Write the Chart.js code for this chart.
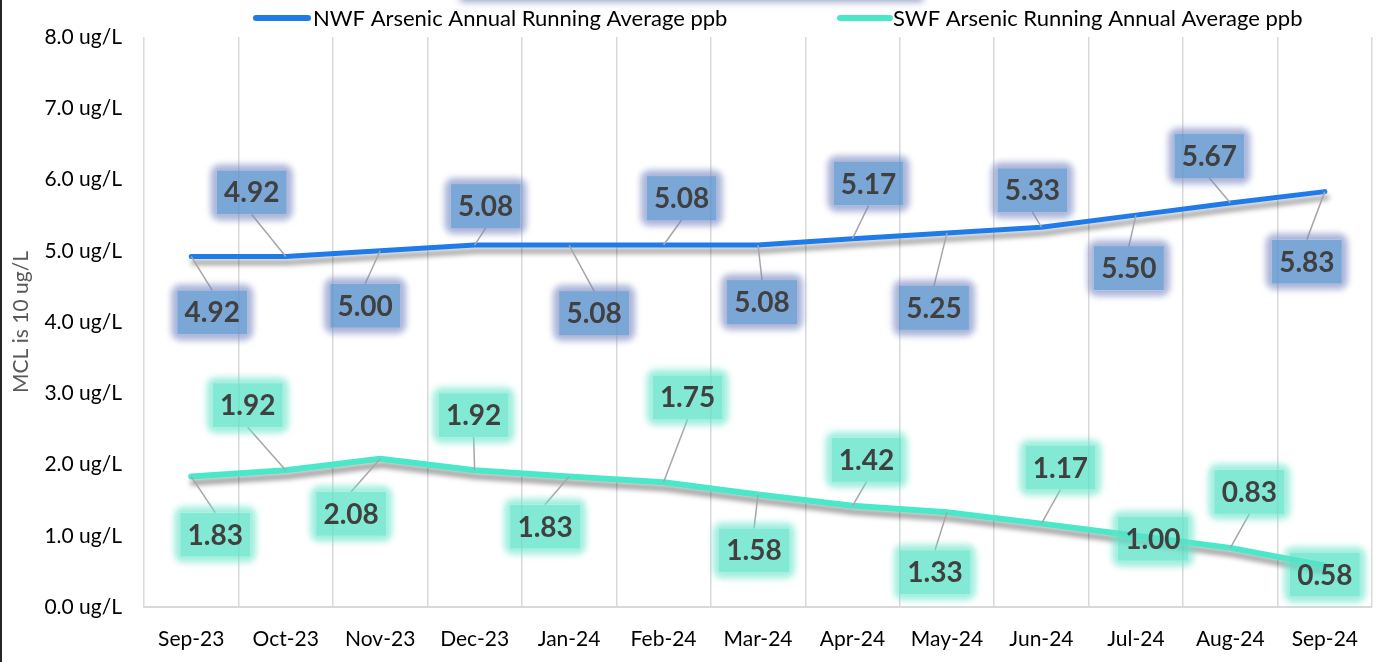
<!DOCTYPE html>
<html>
<head>
<meta charset="utf-8">
<script src="https://cdn.jsdelivr.net/npm/chart.js@4.4.1/dist/chart.umd.min.js"></script>
<style>
  html, body { margin: 0; padding: 0; background: #fff; }
  #wrap { width: 1378px; height: 662px; position: relative; }
</style>
</head>
<body>
<div id="wrap"><canvas id="lineChart"></canvas></div>
<script>
// Data
const months = ["Sep-23", "Oct-23", "Nov-23", "Dec-23", "Jan-24", "Feb-24", "Mar-24",
  "Apr-24", "May-24", "Jun-24", "Jul-24", "Aug-24", "Sep-24"];
const nwfValues = [4.92, 4.92, 5.00, 5.08, 5.08, 5.08, 5.08, 5.17, 5.25, 5.33, 5.50, 5.67, 5.83];
const swfValues = [1.83, 1.92, 2.08, 1.92, 1.83, 1.75, 1.58, 1.42, 1.33, 1.17, 1.00, 0.83, 0.58];
const yTickLabels = ["0.0 ug/L", "1.0 ug/L", "2.0 ug/L", "3.0 ug/L", "4.0 ug/L",
  "5.0 ug/L", "6.0 ug/L", "7.0 ug/L", "8.0 ug/L"];
const nwfName = "NWF Arsenic Annual Running Average ppb";
const swfName = "SWF Arsenic Running Annual Average ppb";
const yTitle = "MCL is 10 ug/L";

// Label placement (pixel offsets from each point), like the moved Excel labels
const nwfLabelOffset = [[21, 56], [-34, -64], [-15, 55], [11, -39], [25, 68], [18, -47], [4, 57],
  [16, -55], [-13, 75], [-9, -37], [-7, 53], [-21, -47], [-18, 70]];
const swfLabelOffset = [[24, 58], [-38, -65], [-29, 55], [-1, -55], [-24, 50], [24, -85], [-4, 56],
  [14, -46], [-12, 60], [19, -56], [17, 3], [19, -56], [0, 9]];

const NWF_COLOR = "#1e7be9";
const SWF_COLOR = "#4ae8c9";
const FONT = "Lato, 'Open Sans', sans-serif";

const boxStyles = [
  { fill: "rgba(86,142,204,0.78)", glow: "rgba(118,134,192,0.62)", offsets: nwfLabelOffset },
  { fill: "rgba(88,226,198,0.75)", glow: "rgba(104,228,202,0.62)", offsets: swfLabelOffset },
];

const chartDecor = {
  id: "chartDecor",
  beforeDraw(chart) {
    const c = chart.ctx;
    c.save();
    // dark left edge of the picture
    c.fillStyle = "#262626";
    c.fillRect(0, 0, 2, chart.height);
    // shadow of a cut-off box at the very top
    c.shadowColor = "rgba(90,110,170,0.6)";
    c.shadowBlur = 7;
    c.shadowOffsetY = 2;
    c.fillStyle = "#fff";
    c.fillRect(460, -40, 463, 40);
    c.restore();
  },
  beforeDatasetDraw(chart) {
    const c = chart.ctx;
    c.save();
    c.shadowColor = "rgba(0,0,0,0.38)";
    c.shadowBlur = 5;
    c.shadowOffsetX = 2;
    c.shadowOffsetY = 6;
  },
  afterDatasetDraw(chart) {
    chart.ctx.restore();
  },
  afterDatasetsDraw(chart) {
    const c = chart.ctx;
    const bw = 70, bh = 44;
    chart.data.datasets.forEach((ds, di) => {
      const meta = chart.getDatasetMeta(di);
      const st = boxStyles[di];
      meta.data.forEach((pt, i) => {
        const [dx, dy] = st.offsets[i];
        const cx = pt.x + dx, cy = pt.y + dy;
        const bx = cx - bw / 2, by = cy - bh / 2;
        // leader line
        if (Math.abs(dy) > bh / 2 + 6) {
          const ey = dy > 0 ? by : by + bh;
          c.save();
          c.strokeStyle = "#a6a6a6";
          c.lineWidth = 1.5;
          c.beginPath();
          c.moveTo(cx, ey);
          c.lineTo(pt.x, pt.y);
          c.stroke();
          c.restore();
        }
        // soft glow ring outside the box
        c.save();
        c.beginPath();
        c.rect(bx - 30, by - 30, bw + 60, bh + 60);
        c.rect(bx, by, bw, bh);
        c.clip("evenodd");
        c.filter = "blur(3px)";
        c.fillStyle = st.glow;
        c.beginPath();
        c.roundRect(bx - 6, by - 6, bw + 12, bh + 12, 9);
        c.fill();
        c.restore();
        // box
        c.save();
        c.fillStyle = st.fill;
        c.fillRect(bx, by, bw, bh);
        c.fillStyle = "#404040";
        c.font = "bold 28px " + FONT;
        c.textAlign = "center";
        c.textBaseline = "middle";
        c.fillText(ds.data[i].toFixed(2), cx, cy + 1);
        c.restore();
      });
    });
  },
  afterDraw(chart) {
    // legend
    const c = chart.ctx;
    const items = [
      { x0: 256, x1: 308, tx: 313, color: NWF_COLOR, text: nwfName },
      { x0: 840, x1: 890, tx: 893, color: SWF_COLOR, text: swfName },
    ];
    c.save();
    c.lineCap = "round";
    c.lineWidth = 6;
    c.font = "22px " + FONT;
    c.textBaseline = "middle";
    c.fillStyle = "#000";
    items.forEach((it) => {
      c.strokeStyle = it.color;
      c.beginPath();
      c.moveTo(it.x0, 18);
      c.lineTo(it.x1, 18);
      c.stroke();
      c.fillText(it.text, it.tx, 19);
    });
    c.restore();
  },
};

const ctx = document.getElementById("lineChart").getContext("2d");

const myChart = new Chart(ctx, {
  type: "line",
  data: {
    labels: months,
    datasets: [
      {
        label: nwfName,
        data: nwfValues,
        borderColor: NWF_COLOR,
        borderWidth: 5,
        borderCapStyle: "round",
        borderJoinStyle: "round",
        pointRadius: 0,
        tension: 0,
      },
      {
        label: swfName,
        data: swfValues,
        borderColor: SWF_COLOR,
        borderWidth: 6,
        borderCapStyle: "round",
        borderJoinStyle: "round",
        pointRadius: 0,
        tension: 0,
      },
    ],
  },
  options: {
    responsive: true,
    maintainAspectRatio: false,
    animation: false,
    layout: { padding: { top: 37, right: 0, left: 0, bottom: 0 } },
    scales: {
      x: {
        offset: true,
        grid: {
          offset: true,
          color: "#d9d9d9",
          lineWidth: 1.5,
          drawTicks: false,
        },
        border: { color: "#d9d9d9", width: 2 },
        ticks: {
          color: "#000",
          padding: 20,
          maxRotation: 0,
          autoSkip: false,
          font: { family: FONT, size: 21 },
        },
        afterFit: (scale) => { scale.height = 55; },
      },
      y: {
        min: 0,
        max: 8,
        grid: { display: false, drawTicks: false },
        border: { display: false },
        ticks: {
          stepSize: 1,
          color: "#000",
          padding: 22,
          font: { family: FONT, size: 21 },
          callback: (value, index) => yTickLabels[index],
        },
        title: {
          display: true,
          text: yTitle,
          color: "#595959",
          padding: { top: 9, bottom: 0 },
          font: { family: FONT, size: 21 },
        },
        afterFit: (scale) => { scale.width = 144; },
      },
    },
    plugins: {
      legend: { display: false },
      tooltip: { enabled: false },
    },
  },
  plugins: [chartDecor],
});
</script>
</body>
</html>
